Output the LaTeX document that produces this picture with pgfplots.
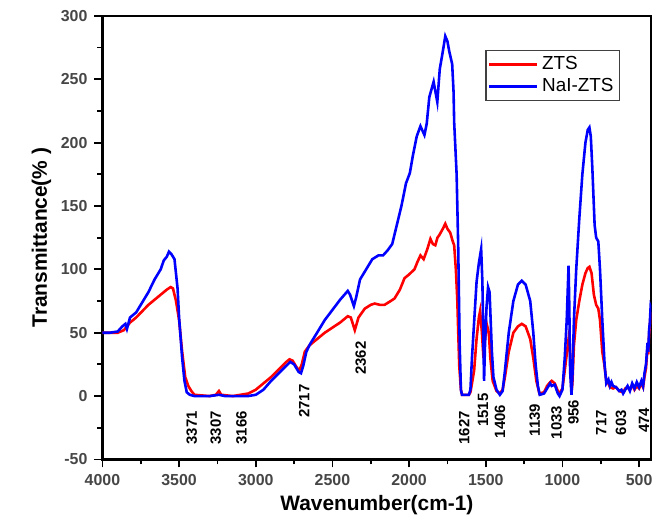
\documentclass[border=0pt]{standalone}
\usepackage{pgfplots}
\pgfplotsset{compat=1.18}
\usepackage{fontspec}
\setmainfont{Liberation Sans}
\definecolor{tickgray}{RGB}{70,70,70}

\begin{document}
\begin{tikzpicture}
\begin{axis}[
    name=ax,
    scale only axis,
    width=276pt, height=223pt,
    x dir=reverse,
    xmin=420, xmax=4000,
    ymin=-50, ymax=300,
    xtick={500,1000,...,4000},
    ytick={-50,0,...,300},
    minor x tick num=1,
    minor y tick num=1,
    xtick pos=bottom, ytick pos=left,
    tick align=outside,
    major tick length=4pt, minor tick length=2.5pt,
    every tick/.style={black, line width=0.9pt},
    axis line style={line width=1.1pt},
    /pgf/number format/assume math mode=true,
    /pgf/number format/set thousands separator={},
    ticklabel style={font=\bfseries\fontsize{8}{9}\selectfont, text=tickgray},
    xlabel={\textbf{Wavenumber(cm-1)}},
    ylabel={\textbf{Transmittance(\% )}},
    label style={font=\fontsize{10.5}{12}\selectfont},
    xlabel style={yshift=2pt},
    ylabel style={yshift=-2pt},
    legend style={at={(0.697,0.924)}, anchor=north west, draw=black!75,
        line width=0.8pt, font=\fontsize{9.5}{10}\selectfont,
        inner sep=1pt, row sep=-1pt, cells={anchor=west}},
    legend image code/.code={\draw[#1] (0pt,0pt) -- (24pt,0pt);},
]
% ZTS
\addplot[red, line width=1.3pt] coordinates {
(4000,50) (3950,50) (3900,50) (3860,52) (3820,58) (3780,62) (3740,67)
(3700,72) (3660,76) (3620,80) (3580,84) (3555,86) (3540,85) (3520,75)
(3500,60) (3480,35) (3460,15) (3440,8) (3420,4) (3400,1) (3300,0)
(3260,1) (3240,4) (3225,1) (3150,0) (3100,1) (3050,2) (3000,5)
(2950,10) (2900,15) (2850,21) (2800,27) (2780,29) (2760,28) (2735,23)
(2717,20) (2700,25) (2680,35) (2650,40) (2600,45) (2550,50) (2500,54)
(2450,58) (2400,63) (2380,62) (2354,52) (2330,62) (2289,69) (2250,72)
(2224,73) (2190,72) (2160,72) (2120,75) (2095,77) (2060,84) (2030,93)
(2000,96) (1965,100) (1945,106) (1926,111) (1905,108) (1881,116)
(1861,124) (1845,120) (1829,119) (1815,125) (1803,127) (1780,132)
(1764,136) (1750,132) (1732,129) (1715,122) (1706,119) (1695,100)
(1686,77) (1673,24) (1662,5) (1655,1) (1610,1) (1600,3) (1590,10)
(1576,20) (1560,45) (1545,62) (1537,67) (1525,50) (1515,30) (1505,45)
(1492,56) (1480,50) (1470,30) (1455,12) (1430,4) (1408,2) (1390,5)
(1375,15) (1350,35) (1320,50) (1290,55) (1265,57) (1240,55) (1210,45)
(1190,30) (1170,12) (1150,2) (1120,3) (1100,8) (1080,11) (1070,12)
(1050,10) (1030,4) (1019,2) (1000,6) (985,20) (970,35) (960,45)
(950,35) (941,3) (935,10) (925,40) (910,60) (890,75) (870,88) (850,97)
(835,101) (824,102) (810,97) (795,80) (780,72) (766,69) (755,60)
(740,35) (727,25) (714,12) (700,10) (690,7) (670,6) (650,7) (630,4)
(604,3) (590,6) (575,7) (560,5) (545,9) (530,5) (515,8) (500,6)
(485,10) (474,7) (465,15) (455,22) (445,38) (440,33) (435,48) (430,55)
(425,65) (420,65)
};
% NaI-ZTS
\addplot[blue, line width=1.3pt] coordinates {
(4000,50) (3950,50) (3900,51) (3870,55) (3850,57) (3840,53) (3820,62)
(3780,66) (3740,74) (3700,82) (3660,92) (3620,100) (3600,107) (3580,110)
(3566,114) (3550,112) (3530,108) (3510,85) (3500,62) (3480,30) (3465,12)
(3450,3) (3430,1) (3400,0) (3300,0) (3240,1) (3200,0) (3100,0) (3050,0)
(3000,1) (2950,5) (2900,12) (2850,18) (2800,24) (2775,27) (2750,25)
(2720,19) (2705,18) (2690,24) (2670,35) (2646,41) (2600,50) (2550,60)
(2500,68) (2450,76) (2400,83) (2385,80) (2360,71) (2345,78) (2320,92)
(2280,100) (2240,108) (2200,111) (2170,111) (2140,115) (2110,120)
(2080,135) (2050,150) (2020,168) (1995,176) (1975,190) (1950,205)
(1926,213) (1900,206) (1885,215) (1868,236) (1840,248) (1816,232)
(1800,258) (1780,272) (1764,284) (1750,280) (1738,272) (1719,262)
(1710,240) (1706,216) (1690,175) (1680,120) (1670,40) (1662,5) (1655,1)
(1610,1) (1600,5) (1590,30) (1575,60) (1560,90) (1545,105) (1530,116)
(1522,90) (1515,40) (1511,12) (1505,40) (1495,70) (1485,86) (1475,82)
(1468,60) (1460,35) (1450,15) (1430,5) (1408,1) (1390,4) (1375,20)
(1350,50) (1320,75) (1290,88) (1265,91) (1240,88) (1210,75) (1190,50)
(1175,25) (1160,8) (1148,1) (1120,2) (1100,6) (1080,10) (1070,8)
(1050,9) (1030,2) (1019,0) (1000,5) (985,30) (972,60) (965,85) (960,103)
(955,70) (950,20) (941,1) (935,15) (925,60) (910,100) (890,140)
(870,175) (850,200) (835,210) (824,212) (815,205) (805,180) (790,135)
(780,125) (766,122) (755,100) (740,60) (725,25) (714,10) (700,13)
(690,8) (680,11) (670,8) (650,7) (630,4) (615,5) (604,2) (590,5)
(575,8) (560,4) (545,10) (530,6) (515,11) (500,7) (485,12) (474,8)
(465,18) (455,25) (445,42) (440,35) (435,52) (430,58) (425,70) (420,68)
};
\legend{ZTS, NaI-ZTS}
% peak labels
\begin{scope}[every node/.style={rotate=90, font=\bfseries\fontsize{7.5}{8}\selectfont, inner sep=0pt}]
\node at (axis cs:3417,-25) {3371};
\node at (axis cs:3261,-25) {3307};
\node at (axis cs:3093,-25) {3166};
\node at (axis cs:2684,-4) {2717};
\node at (axis cs:2315,30) {2362};
\node at (axis cs:1641,-25) {1627};
\node at (axis cs:1518,-11) {1515};
\node at (axis cs:1408,-20) {1406};
\node at (axis cs:1181,-19) {1139};
\node at (axis cs:1038,-21) {1033};
\node at (axis cs:928,-13) {956};
\node at (axis cs:747,-21) {717};
\node at (axis cs:618,-21) {603};
\node at (axis cs:468,-19) {474};
\end{scope}
\end{axis}
\path ([shift={(-51.5pt,-35.5pt)}]ax.south west) rectangle ([shift={(2pt,8pt)}]ax.north east);
\end{tikzpicture}
\end{document}
